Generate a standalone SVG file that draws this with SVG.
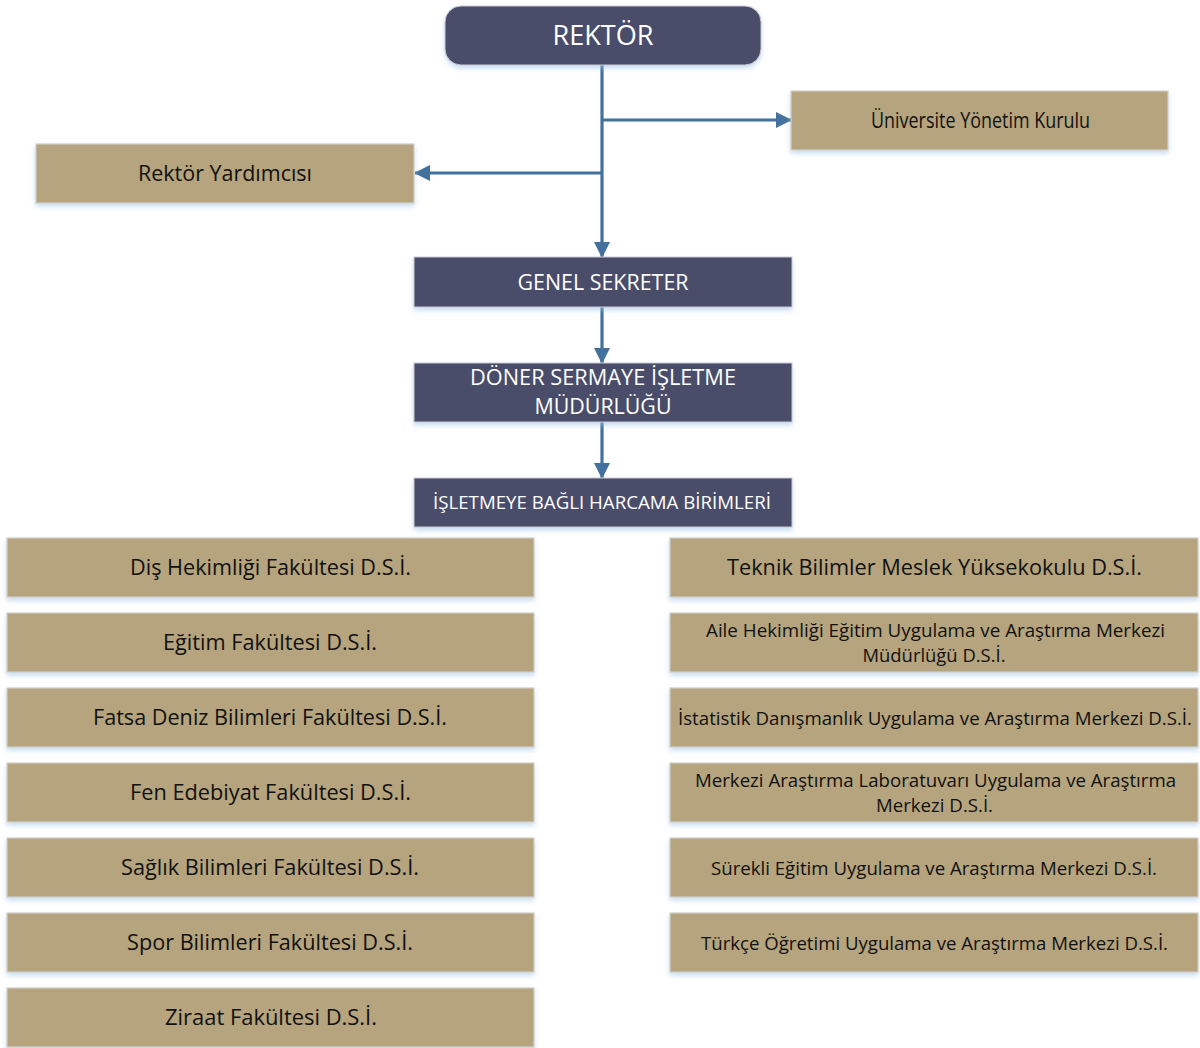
<svg xmlns="http://www.w3.org/2000/svg" width="1200" height="1048" viewBox="0 0 1200 1048">
<defs>
<filter id="sh" x="-5%" y="-20%" width="110%" height="150%">
<feDropShadow dx="0" dy="3" stdDeviation="2.5" flood-color="#9dc3e6" flood-opacity="0.55"/>
</filter>
<marker id="ah" markerUnits="userSpaceOnUse" markerWidth="16" markerHeight="16" refX="15" refY="8" orient="auto">
<path d="M0,0 L16,8 L0,16 z" fill="#41719c"/>
</marker>
</defs>
<style>
.dk{fill:#4a4d69;stroke:#c9cbd6;stroke-width:1;filter:url(#sh)}
.tn{fill:#b5a47d;stroke:#d2d0cc;stroke-width:1.2;filter:url(#sh)}
.wt{fill:#ffffff;font-family:"Open Sans","Noto Sans",sans-serif;text-anchor:middle}
.bk{fill:#111111;font-family:"Open Sans","Noto Sans",sans-serif;text-anchor:middle}
.ln{fill:none;stroke:#41719c;stroke-width:3.2}
</style>
<rect width="1200" height="1048" fill="#ffffff"/>
<g id="connectors">
<path class="ln" d="M602,65 V257" marker-end="url(#ah)"/>
<path class="ln" d="M602,120 H791" marker-end="url(#ah)"/>
<path class="ln" d="M602,173 H415" marker-end="url(#ah)"/>
<path class="ln" d="M602,307 V363" marker-end="url(#ah)"/>
<path class="ln" d="M602,422 V478" marker-end="url(#ah)"/>
</g>
<g id="rektor">
<rect class="dk" x="445" y="6" width="316" height="59" rx="16"/>
<text class="wt" x="603" y="45" font-size="28" textLength="101" lengthAdjust="spacingAndGlyphs">REKTÖR</text>
</g>
<g id="yonetim-kurulu">
<rect class="tn" x="791" y="91" width="377" height="59"/>
<text class="bk" x="980.5" y="128" font-size="22" textLength="219" lengthAdjust="spacingAndGlyphs">Üniversite Yönetim Kurulu</text>
</g>
<g id="rektor-yardimcisi">
<rect class="tn" x="36" y="144" width="378" height="59"/>
<text class="bk" x="225" y="181" font-size="22" textLength="174" lengthAdjust="spacingAndGlyphs">Rektör Yardımcısı</text>
</g>
<g id="genel-sekreter">
<rect class="dk" x="414" y="257" width="378" height="50"/>
<text class="wt" x="603" y="290" font-size="21" textLength="171" lengthAdjust="spacingAndGlyphs">GENEL SEKRETER</text>
</g>
<g id="doner-sermaye">
<rect class="dk" x="414" y="363" width="378" height="59"/>
<text class="wt" x="603" y="385" font-size="21" textLength="266" lengthAdjust="spacingAndGlyphs">DÖNER SERMAYE İŞLETME</text>
<text class="wt" x="603" y="414" font-size="21" textLength="137" lengthAdjust="spacingAndGlyphs">MÜDÜRLÜĞÜ</text>
</g>
<g id="harcama-birimleri">
<rect class="dk" x="414" y="478" width="378" height="49"/>
<text class="wt" x="602" y="509" font-size="18" textLength="338" lengthAdjust="spacingAndGlyphs">İŞLETMEYE BAĞLI HARCAMA BİRİMLERİ</text>
</g>
<g id="dis-hekimligi">
<rect class="tn" x="7" y="538" width="527" height="59"/>
<text class="bk" x="270.5" y="575" font-size="22" textLength="281" lengthAdjust="spacingAndGlyphs">Diş Hekimliği Fakültesi D.S.İ.</text>
</g>
<g id="egitim">
<rect class="tn" x="7" y="613" width="527" height="59"/>
<text class="bk" x="270" y="650" font-size="22" textLength="214" lengthAdjust="spacingAndGlyphs">Eğitim Fakültesi D.S.İ.</text>
</g>
<g id="fatsa">
<rect class="tn" x="7" y="688" width="527" height="59"/>
<text class="bk" x="270" y="725" font-size="22" textLength="354" lengthAdjust="spacingAndGlyphs">Fatsa Deniz Bilimleri Fakültesi D.S.İ.</text>
</g>
<g id="fen-edebiyat">
<rect class="tn" x="7" y="763" width="527" height="59"/>
<text class="bk" x="270.5" y="800" font-size="22" textLength="281" lengthAdjust="spacingAndGlyphs">Fen Edebiyat Fakültesi D.S.İ.</text>
</g>
<g id="saglik">
<rect class="tn" x="7" y="838" width="527" height="59"/>
<text class="bk" x="270" y="875" font-size="22" textLength="298" lengthAdjust="spacingAndGlyphs">Sağlık Bilimleri Fakültesi D.S.İ.</text>
</g>
<g id="spor">
<rect class="tn" x="7" y="913" width="527" height="59"/>
<text class="bk" x="270" y="950" font-size="22" textLength="286" lengthAdjust="spacingAndGlyphs">Spor Bilimleri Fakültesi D.S.İ.</text>
</g>
<g id="ziraat">
<rect class="tn" x="7" y="988" width="527" height="59"/>
<text class="bk" x="271" y="1025" font-size="22" textLength="212" lengthAdjust="spacingAndGlyphs">Ziraat Fakültesi D.S.İ.</text>
</g>
<g id="teknik-bilimler">
<rect class="tn" x="670" y="538" width="528" height="59"/>
<text class="bk" x="934.5" y="575" font-size="22" textLength="415" lengthAdjust="spacingAndGlyphs">Teknik Bilimler Meslek Yüksekokulu D.S.İ.</text>
</g>
<g id="aile-hekimligi">
<rect class="tn" x="670" y="613" width="528" height="59"/>
<text class="bk" x="935.5" y="637" font-size="18" textLength="459" lengthAdjust="spacingAndGlyphs">Aile Hekimliği Eğitim Uygulama ve Araştırma Merkezi</text>
<text class="bk" x="934" y="662" font-size="18" textLength="143" lengthAdjust="spacingAndGlyphs">Müdürlüğü D.S.İ.</text>
</g>
<g id="istatistik">
<rect class="tn" x="670" y="688" width="528" height="59"/>
<text class="bk" x="935" y="724.5" font-size="18" textLength="514" lengthAdjust="spacingAndGlyphs">İstatistik Danışmanlık Uygulama ve Araştırma Merkezi D.S.İ.</text>
</g>
<g id="merkezi-arastirma">
<rect class="tn" x="670" y="763" width="528" height="59"/>
<text class="bk" x="935.5" y="787" font-size="18" textLength="481" lengthAdjust="spacingAndGlyphs">Merkezi Araştırma Laboratuvarı Uygulama ve Araştırma</text>
<text class="bk" x="934.5" y="812" font-size="18" textLength="117" lengthAdjust="spacingAndGlyphs">Merkezi D.S.İ.</text>
</g>
<g id="surekli-egitim">
<rect class="tn" x="670" y="838" width="528" height="59"/>
<text class="bk" x="934" y="874.5" font-size="18" textLength="446" lengthAdjust="spacingAndGlyphs">Sürekli Eğitim Uygulama ve Araştırma Merkezi D.S.İ.</text>
</g>
<g id="turkce-ogretimi">
<rect class="tn" x="670" y="913" width="528" height="59"/>
<text class="bk" x="934.5" y="949.5" font-size="18" textLength="467" lengthAdjust="spacingAndGlyphs">Türkçe Öğretimi Uygulama ve Araştırma Merkezi D.S.İ.</text>
</g>
</svg>
